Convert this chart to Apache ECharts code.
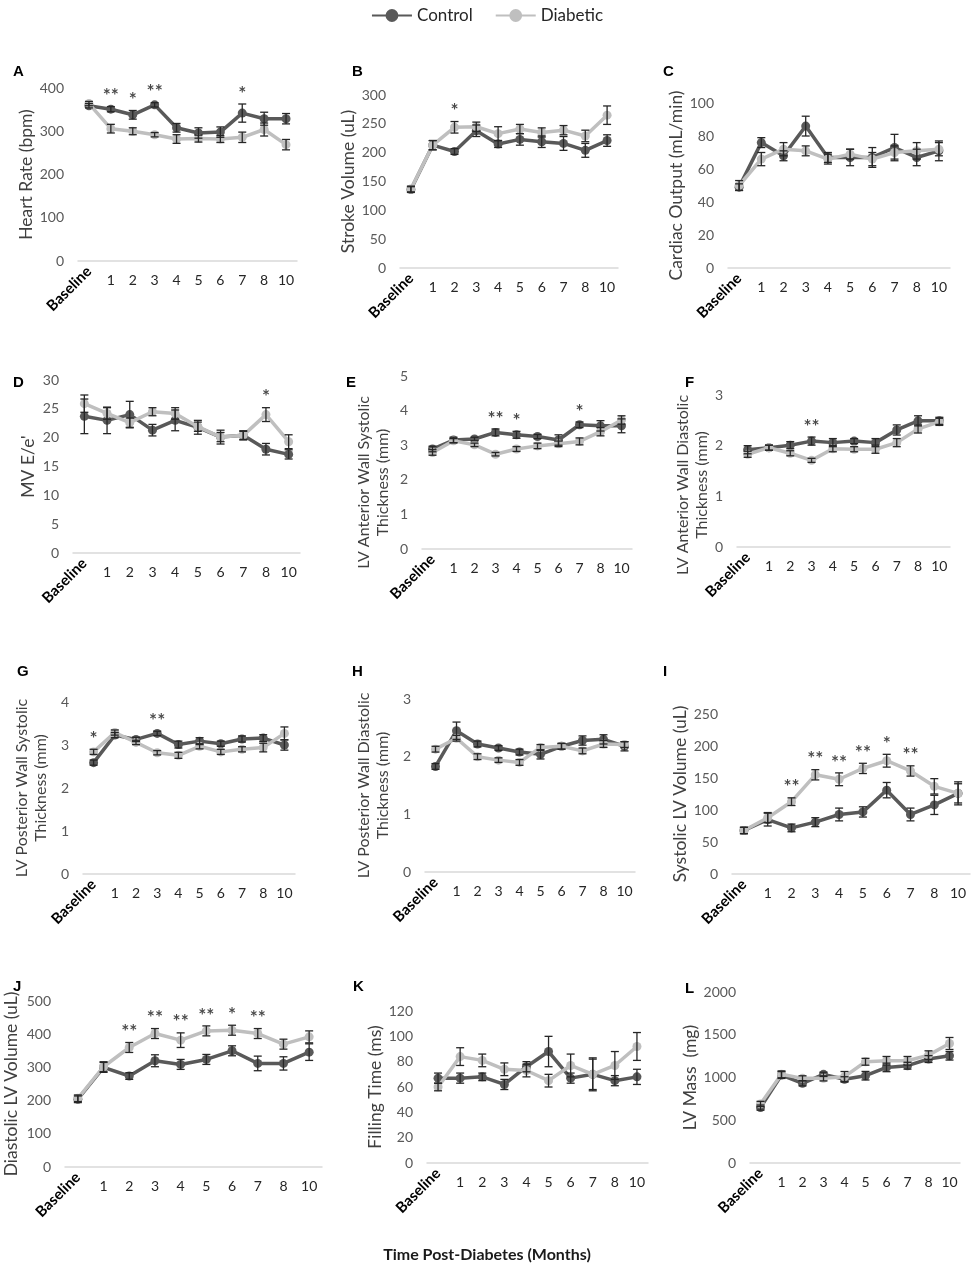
<!DOCTYPE html>
<html>
<head>
<meta charset="utf-8">
<script src="https://cdn.jsdelivr.net/npm/echarts@6/dist/echarts.min.js"></script>
<style>
  html, body { margin: 0; background: #fff; }
  #chart { width: 974px; height: 1286px; }
</style>
</head>
<body>
<div id="chart"></div>
<script>
// time points (months post-diabetes)
var months = ['Baseline', '1', '2', '3', '4', '5', '6', '7', '8', '10'];

// A - heart rate
var hrCtrl = [359, 351, 338, 361, 308, 296, 298, 342, 329, 329];
var hrCtrlErr = [5, 6, 10, 5, 10, 12, 12, 21, 15, 12];
var hrDiab = [364, 306, 300, 292, 282, 283, 282, 286, 304, 269];
var hrDiabErr = [5, 10, 8, 5, 10, 8, 8, 12, 15, 12];
var hrStars = ['', '**', '*', '**', '', '', '', '*', '', ''];

// B - stroke volume
var svCtrl = [136, 213, 202, 238, 215, 223, 219, 216, 204, 221];
var svCtrlErr = [5, 8, 5, 10, 6, 10, 10, 12, 12, 10];
var svDiab = [137, 213, 244, 245, 233, 241, 235, 239, 229, 265];
var svDiabErr = [5, 8, 10, 8, 12, 8, 8, 8, 10, 16];
var svStars = ['', '', '*', '', '', '', '', '', '', ''];

// C - cardiac output
var coCtrl = [49, 76, 68, 86, 67, 67, 67, 73, 67, 71];
var coCtrlErr = [2, 3, 3, 6, 3, 5, 6, 8, 5, 6];
var coDiab = [50, 66, 72, 71, 66, 69, 66, 70, 71, 72];
var coDiabErr = [3, 4, 4, 3, 3, 3, 4, 4, 5, 4];
var coStars = ['', '', '', '', '', '', '', '', '', ''];

// D - MV E/e'
var eeCtrl = [23.7, 23.0, 24.0, 21.3, 23.0, 21.8, 20.1, 20.4, 18.0, 17.1];
var eeCtrlErr = [3, 2.3, 2.3, 1.0, 1.8, 1.2, 1.2, 0.8, 1.0, 0.8];
var eeDiab = [25.9, 24.2, 22.6, 24.5, 24.2, 21.9, 20.1, 20.4, 24.0, 19.3];
var eeDiabErr = [1.5, 1.0, 0.8, 0.7, 1.0, 0.8, 0.8, 0.7, 1.2, 1.2];
var eeStars = ['', '', '', '', '', '', '', '', '*', ''];

// E - LV anterior wall systolic thickness
var awsCtrl = [2.89, 3.15, 3.18, 3.37, 3.30, 3.25, 3.15, 3.59, 3.56, 3.56];
var awsCtrlErr = [0.08, 0.08, 0.05, 0.1, 0.1, 0.06, 0.15, 0.08, 0.15, 0.2];
var awsDiab = [2.79, 3.13, 3.01, 2.74, 2.89, 2.98, 3.04, 3.11, 3.39, 3.73];
var awsDiabErr = [0.08, 0.06, 0.05, 0.05, 0.07, 0.08, 0.08, 0.1, 0.12, 0.12];
var awsStars = ['', '', '', '**', '*', '', '', '*', '', ''];

// F - LV anterior wall diastolic thickness
var awdCtrl = [1.92, 1.96, 2.01, 2.09, 2.06, 2.09, 2.06, 2.31, 2.49, 2.49];
var awdCtrlErr = [0.08, 0.05, 0.07, 0.08, 0.08, 0.05, 0.08, 0.1, 0.1, 0.07];
var awdDiab = [1.83, 1.96, 1.85, 1.71, 1.94, 1.93, 1.93, 2.06, 2.33, 2.47];
var awdDiabErr = [0.06, 0.05, 0.05, 0.04, 0.06, 0.05, 0.08, 0.08, 0.08, 0.07];
var awdStars = ['', '', '', '**', '', '', '', '', '', ''];

// G - LV posterior wall systolic thickness
var pwsCtrl = [2.59, 3.23, 3.13, 3.27, 3.01, 3.09, 3.03, 3.14, 3.16, 3.0];
var pwsCtrlErr = [0.06, 0.06, 0.05, 0.05, 0.08, 0.08, 0.06, 0.07, 0.08, 0.12];
var pwsDiab = [2.84, 3.29, 3.06, 2.82, 2.76, 2.97, 2.84, 2.90, 2.94, 3.27];
var pwsDiabErr = [0.06, 0.06, 0.05, 0.05, 0.07, 0.06, 0.06, 0.06, 0.1, 0.15];
var pwsStars = ['*', '', '', '**', '', '', '', '', '', ''];

// H - LV posterior wall diastolic thickness
var pwdCtrl = [1.83, 2.45, 2.22, 2.15, 2.08, 2.04, 2.18, 2.28, 2.30, 2.18];
var pwdCtrlErr = [0.05, 0.15, 0.05, 0.04, 0.05, 0.08, 0.05, 0.08, 0.08, 0.08];
var pwdDiab = [2.13, 2.32, 2.0, 1.94, 1.90, 2.16, 2.18, 2.10, 2.22, 2.21];
var pwdDiabErr = [0.05, 0.05, 0.05, 0.04, 0.05, 0.05, 0.05, 0.05, 0.06, 0.05];
var pwdStars = ['', '', '', '', '', '', '', '', '', ''];

// I - systolic LV volume
var esvCtrl = [68, 85, 72, 81, 93, 97, 131, 93, 108, 126];
var esvCtrlErr = [5, 10, 6, 7, 10, 8, 12, 10, 15, 15];
var esvDiab = [68, 88, 113, 155, 148, 165, 177, 161, 137, 126];
var esvDiabErr = [5, 8, 6, 8, 10, 8, 10, 8, 12, 18];
var esvStars = ['', '', '**', '**', '**', '**', '*', '**', '', ''];

// J - diastolic LV volume
var edvCtrl = [204, 300, 274, 320, 309, 324, 350, 312, 312, 346];
var edvCtrlErr = [10, 15, 10, 18, 15, 15, 15, 22, 20, 25];
var edvDiab = [207, 302, 360, 402, 382, 410, 412, 402, 370, 392];
var edvDiabErr = [10, 15, 15, 15, 22, 15, 15, 15, 15, 18];
var edvStars = ['', '', '**', '**', '**', '**', '*', '**', '', ''];

// K - filling time
var ftCtrl = [67, 67, 68, 62, 76, 88, 67, 70, 65, 68];
var ftCtrlErr = [4, 4, 3, 4, 4, 12, 4, 12, 4, 6];
var ftDiab = [60, 84, 81, 74, 73, 65, 77, 70, 77, 92];
var ftDiabErr = [3, 7, 5, 5, 5, 5, 9, 13, 11, 11];
var ftStars = ['', '', '', '', '', '', '', '', '', ''];

// L - LV mass
var massCtrl = [648, 1029, 932, 1037, 979, 1021, 1118, 1138, 1216, 1254];
var massCtrlErr = [30, 40, 30, 25, 30, 50, 50, 40, 40, 50];
var massDiab = [691, 1037, 990, 990, 1010, 1184, 1196, 1196, 1262, 1398];
var massDiabErr = [30, 40, 30, 30, 60, 40, 50, 50, 50, 70];
var massStars = ['', '', '', '', '', '', '', '', '', ''];

var panels = [
  { letter: 'A', name: 'Heart Rate (bpm)', max: 400, step: 100, c: hrCtrl, ce: hrCtrlErr, d: hrDiab, de: hrDiabErr, s: hrStars },
  { letter: 'B', name: 'Stroke Volume (uL)', max: 300, step: 50, c: svCtrl, ce: svCtrlErr, d: svDiab, de: svDiabErr, s: svStars },
  { letter: 'C', name: 'Cardiac Output (mL/min)', max: 100, step: 20, c: coCtrl, ce: coCtrlErr, d: coDiab, de: coDiabErr, s: coStars },
  { letter: 'D', name: "MV E/e'", max: 30, step: 5, c: eeCtrl, ce: eeCtrlErr, d: eeDiab, de: eeDiabErr, s: eeStars },
  { letter: 'E', name: 'LV Anterior Wall Systolic\nThickness (mm)', max: 5, step: 1, c: awsCtrl, ce: awsCtrlErr, d: awsDiab, de: awsDiabErr, s: awsStars },
  { letter: 'F', name: 'LV Anterior Wall Diastolic\nThickness (mm)', max: 3, step: 1, c: awdCtrl, ce: awdCtrlErr, d: awdDiab, de: awdDiabErr, s: awdStars },
  { letter: 'G', name: 'LV Posterior Wall Systolic\nThickness (mm)', max: 4, step: 1, c: pwsCtrl, ce: pwsCtrlErr, d: pwsDiab, de: pwsDiabErr, s: pwsStars },
  { letter: 'H', name: 'LV Posterior Wall Diastolic\nThickness (mm)', max: 3, step: 1, c: pwdCtrl, ce: pwdCtrlErr, d: pwdDiab, de: pwdDiabErr, s: pwdStars },
  { letter: 'I', name: 'Systolic LV Volume (uL)', max: 250, step: 50, c: esvCtrl, ce: esvCtrlErr, d: esvDiab, de: esvDiabErr, s: esvStars },
  { letter: 'J', name: 'Diastolic LV Volume (uL)', max: 500, step: 100, c: edvCtrl, ce: edvCtrlErr, d: edvDiab, de: edvDiabErr, s: edvStars },
  { letter: 'K', name: 'Filling Time (ms)', max: 120, step: 20, c: ftCtrl, ce: ftCtrlErr, d: ftDiab, de: ftDiabErr, s: ftStars },
  { letter: 'L', name: 'LV Mass  (mg)', max: 2000, step: 500, c: massCtrl, ce: massCtrlErr, d: massDiab, de: massDiabErr, s: massStars }
];

// plot boxes: [left, right, top(max tick), bottom(zero)], axis-name centre x, name shift down, letter position
var boxes = [
  [78, 297, 88, 261], [400, 618, 95, 268], [728, 950, 103, 268],
  [73, 300, 380, 553], [422, 632, 376, 549], [737, 950, 395, 547],
  [83, 295, 702, 874], [425, 635, 699, 872], [732, 970, 714, 874],
  [65, 322, 1001, 1167], [427, 648, 1011, 1163], [750, 960, 992, 1163]
];
var nameX = [27, 348, 683, 28, 373, 693, 31, 373, 686, 11, 375, 693];
var nameShift = [0, 0, 0, 0, 40, 28, 0, 0, 0, 0, 0, 0];
var letterPos = [
  [8, 59], [347, 59], [658, 59],
  [8, 370], [341, 370], [680, 370],
  [12, 659], [347, 659], [658, 659],
  [8, 974], [348, 974], [680, 976]
];

var CTRL = '#595959', DIAB = '#BFBFBF', BAR = '#262626';
var FONT = 'Lato, "Open Sans", sans-serif';

function errorRender(params, api) {
  var x = api.value(0), y = api.value(1), e = api.value(2);
  var hi = api.coord([x, y + e]);
  var lo = api.coord([x, y - e]);
  var cap = 4;
  var st = { stroke: BAR, lineWidth: 1.3 };
  return {
    type: 'group',
    children: [
      { type: 'line', shape: { x1: hi[0], y1: hi[1], x2: lo[0], y2: lo[1] }, style: st },
      { type: 'line', shape: { x1: hi[0] - cap, y1: hi[1], x2: hi[0] + cap, y2: hi[1] }, style: st },
      { type: 'line', shape: { x1: lo[0] - cap, y1: lo[1], x2: lo[0] + cap, y2: lo[1] }, style: st }
    ]
  };
}

var grids = [], xAxes = [], yAxes = [], series = [];
var titles = [{
  text: 'Time Post-Diabetes (Months)', left: 'center', top: 1242,
  textStyle: { fontFamily: FONT, fontSize: 16, fontWeight: 'bold', color: '#1a1a1a' }
}];

panels.forEach(function (p, k) {
  var b = boxes[k];
  grids.push({ left: b[0], top: b[2], width: b[1] - b[0], height: b[3] - b[2] });

  var lines = p.name.split('\n').length;
  var lh = 19;
  var fs = lines > 1 ? 16 : 17.5;
  var gap = b[0] - nameX[k] - (lines * lh) / 2;

  xAxes.push({
    type: 'category', gridIndex: k, data: months, boundaryGap: true,
    axisLine: { lineStyle: { color: '#D9D9D9', width: 1.5 } },
    axisTick: { show: false },
    axisLabel: {
      interval: 0, margin: 12, fontFamily: FONT, fontSize: 14, color: '#262626',
      formatter: function (v, i) { return i === 0 ? '' : v; }
    }
  });
  xAxes.push({
    type: 'category', gridIndex: k, data: months, boundaryGap: true, position: 'bottom',
    axisLine: { show: false }, axisTick: { show: false },
    axisLabel: {
      interval: 0, margin: 8, rotate: 45, fontFamily: FONT, fontSize: 15,
      fontWeight: 'bold', color: '#000',
      formatter: function (v, i) { return i === 0 ? v : ''; }
    }
  });
  yAxes.push({
    type: 'value', gridIndex: k, min: 0, max: p.max, interval: p.step,
    name: p.name, nameLocation: 'middle', nameGap: gap, nameRotate: 90,
    nameTextStyle: {
      fontFamily: FONT, fontSize: fs, color: '#404040', lineHeight: lh,
      padding: [0, nameShift[k], 0, 0]
    },
    axisLine: { show: false }, axisTick: { show: false }, splitLine: { show: false },
    axisLabel: {
      margin: 14, fontFamily: FONT, fontSize: 14, color: '#595959',
      formatter: function (v) { return String(v); }
    }
  });

  titles.push({
    text: p.letter, left: letterPos[k][0], top: letterPos[k][1],
    textStyle: { fontFamily: '"Liberation Sans", Arial, sans-serif', fontSize: 15, fontWeight: 'bold', color: '#000' }
  });

  var xi = 2 * k;
  series.push({
    name: 'Control', type: 'line', xAxisIndex: xi, yAxisIndex: k, data: p.c,
    symbol: 'circle', symbolSize: 9, color: CTRL,
    lineStyle: { width: 3.5, color: CTRL }, itemStyle: { color: CTRL }, z: 2
  });
  series.push({
    name: 'Diabetic', type: 'line', xAxisIndex: xi, yAxisIndex: k, data: p.d,
    symbol: 'circle', symbolSize: 9, color: DIAB,
    lineStyle: { width: 3.5, color: DIAB }, itemStyle: { color: DIAB }, z: 3
  });
  series.push({
    type: 'custom', xAxisIndex: xi, yAxisIndex: k, renderItem: errorRender,
    encode: { x: 0, y: 1 }, z: 4, silent: true,
    data: p.c.map(function (v, i) { return [i, v, p.ce[i]]; })
  });
  series.push({
    type: 'custom', xAxisIndex: xi, yAxisIndex: k, renderItem: errorRender,
    encode: { x: 0, y: 1 }, z: 4, silent: true,
    data: p.d.map(function (v, i) { return [i, v, p.de[i]]; })
  });

  var starData = [];
  p.s.forEach(function (s, i) {
    if (!s) return;
    var top = Math.max(p.c[i] + p.ce[i], p.d[i] + p.de[i]);
    starData.push({ name: s, value: [i, top] });
  });
  series.push({
    type: 'scatter', xAxisIndex: xi, yAxisIndex: k, data: starData,
    symbolSize: 2, itemStyle: { color: 'rgba(0,0,0,0)' }, silent: true, z: 5,
    label: {
      show: true, position: 'top', distance: 0, formatter: '{b}',
      fontFamily: FONT, fontSize: 19, fontWeight: 'bold', color: '#1a1a1a'
    }
  });
});

var chart = echarts.init(document.getElementById('chart'));
chart.setOption({
  animation: false,
  backgroundColor: '#fff',
  title: titles,
  legend: {
    data: ['Control', 'Diabetic'], top: 2, left: 'center',
    itemWidth: 40, itemHeight: 16, itemGap: 22,
    textStyle: { fontFamily: FONT, fontSize: 17, color: '#262626' }
  },
  grid: grids,
  xAxis: xAxes,
  yAxis: yAxes,
  series: series
});
</script>
</body>
</html>
